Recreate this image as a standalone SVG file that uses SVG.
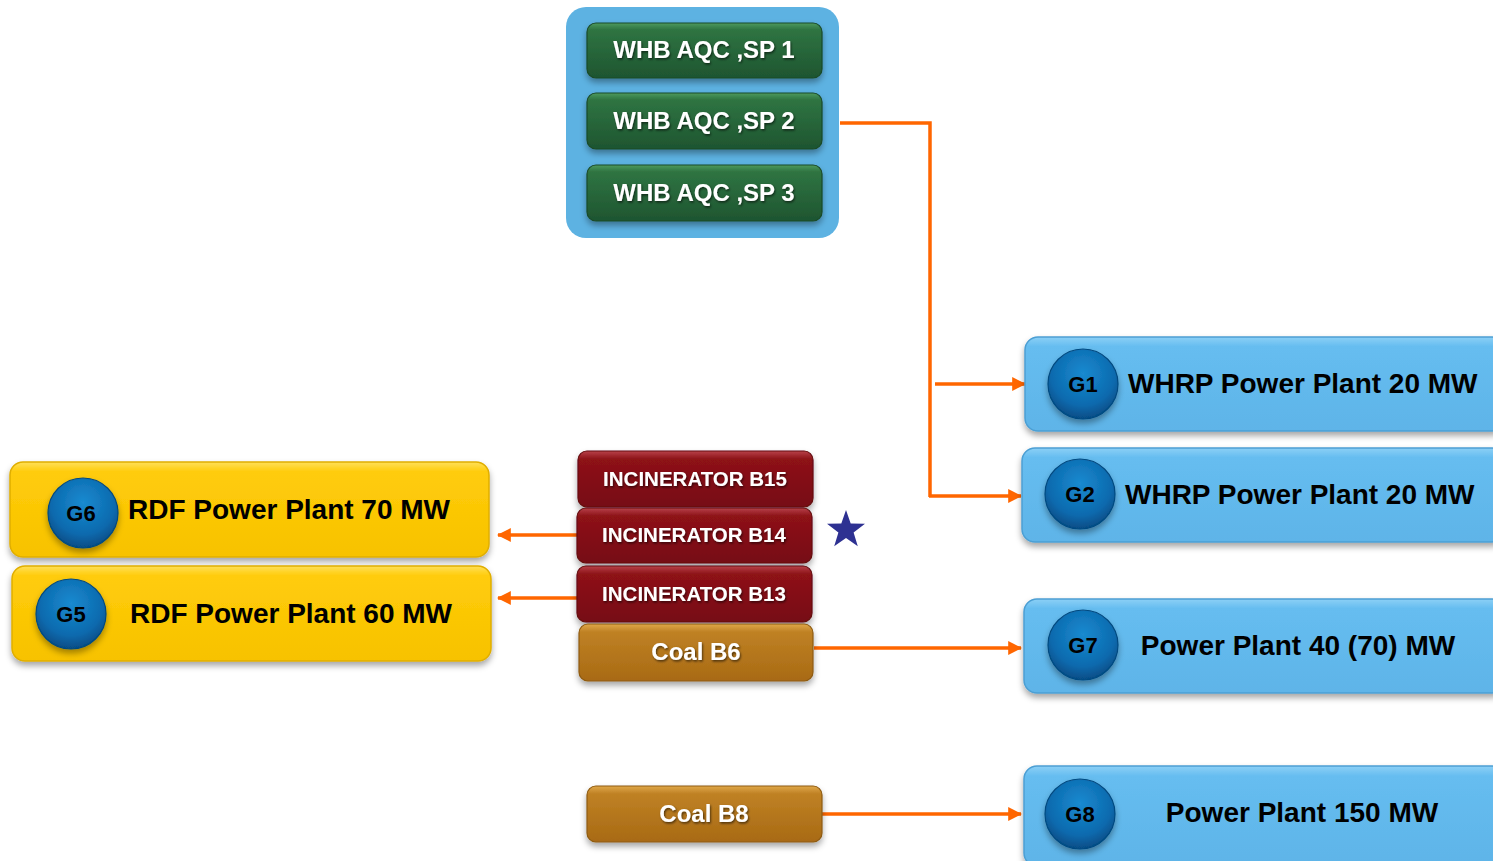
<svg xmlns="http://www.w3.org/2000/svg" width="1493" height="861" viewBox="0 0 1493 861">
<style>
.t{font-family:"Liberation Sans",Arial,sans-serif;font-weight:bold;}
.wt{fill:#ffffff;text-anchor:middle;}
.bt{fill:#000000;}
.g{font-size:22px;fill:#000;text-anchor:middle;}
.conn{stroke:#FF6600;stroke-width:3.5;fill:none;}
.bb{stroke:#4C9FD4;stroke-width:1.5;}
.yb{stroke:#E0AE00;stroke-width:1.5;}
.gb{stroke:#1A4A28;stroke-width:1.2;}
.rb{stroke:#640A0F;stroke-width:1.2;}
.cb{stroke:#8E5A10;stroke-width:1.2;}
.cc{stroke:#064A80;stroke-width:1.2;}
</style>
<defs>
<linearGradient id="gGreen" x1="0" y1="0" x2="0" y2="1">
<stop offset="0" stop-color="#4E9A5E"/><stop offset="0.12" stop-color="#2F7442"/><stop offset="1" stop-color="#1E5530"/>
</linearGradient>
<linearGradient id="gRed" x1="0" y1="0" x2="0" y2="1">
<stop offset="0" stop-color="#B8434A"/><stop offset="0.14" stop-color="#8E1218"/><stop offset="1" stop-color="#760C12"/>
</linearGradient>
<linearGradient id="gCoal" x1="0" y1="0" x2="0" y2="1">
<stop offset="0" stop-color="#E0A84A"/><stop offset="0.14" stop-color="#BF8124"/><stop offset="1" stop-color="#A86A14"/>
</linearGradient>
<linearGradient id="gYel" x1="0" y1="0" x2="0" y2="1">
<stop offset="0" stop-color="#FFE05A"/><stop offset="0.1" stop-color="#FFCC0A"/><stop offset="1" stop-color="#F7C200"/>
</linearGradient>
<linearGradient id="gBlue" x1="0" y1="0" x2="0" y2="1">
<stop offset="0" stop-color="#8CD0F6"/><stop offset="0.1" stop-color="#66BDF0"/><stop offset="1" stop-color="#5EB4E8"/>
</linearGradient>
<radialGradient id="gCirc" cx="0.5" cy="0.35" r="0.65">
<stop offset="0" stop-color="#1A8AD0"/><stop offset="0.7" stop-color="#0B6AAE"/><stop offset="1" stop-color="#064C85"/>
</radialGradient>
<filter id="sh" x="-10%" y="-20%" width="120%" height="150%">
<feDropShadow dx="0" dy="4" stdDeviation="3" flood-color="#000" flood-opacity="0.35"/>
</filter>
<filter id="tsh" x="-10%" y="-20%" width="120%" height="150%">
<feDropShadow dx="1" dy="1.5" stdDeviation="1" flood-color="#000" flood-opacity="0.6"/>
</filter>
<marker id="arr" viewBox="0 0 12 12" refX="11" refY="6" markerWidth="4" markerHeight="4" orient="auto" markerUnits="strokeWidth">
<path d="M0,0 L12,6 L0,12 Z" fill="#FF6600"/>
</marker>
</defs>
<rect width="1493" height="861" fill="#ffffff"/>

<g id="connectors">
<polyline class="conn" points="840,123 930,123 930,497"/>
<line class="conn" x1="935" y1="384" x2="1025" y2="384" marker-end="url(#arr)"/>
<line class="conn" x1="929" y1="496" x2="1021" y2="496" marker-end="url(#arr)"/>
<line class="conn" x1="577" y1="535" x2="498" y2="535" marker-end="url(#arr)"/>
<line class="conn" x1="577" y1="598" x2="498" y2="598" marker-end="url(#arr)"/>
<line class="conn" x1="814" y1="648" x2="1021" y2="648" marker-end="url(#arr)"/>
<line class="conn" x1="822" y1="814" x2="1021" y2="814" marker-end="url(#arr)"/>
</g>

<g id="whb-group">
<rect x="566" y="7" width="273" height="231" rx="20" fill="#5DB2E2"/>
</g>
<g id="sp1">
<rect class="gb" x="587" y="23" width="235" height="55" rx="9" fill="url(#gGreen)" filter="url(#sh)"/>
<text class="t wt" x="704" y="58" font-size="24" filter="url(#tsh)">WHB AQC ,SP 1</text>
</g>
<g id="sp2">
<rect class="gb" x="587" y="93" width="235" height="56" rx="9" fill="url(#gGreen)" filter="url(#sh)"/>
<text class="t wt" x="704" y="129" font-size="24" filter="url(#tsh)">WHB AQC ,SP 2</text>
</g>
<g id="sp3">
<rect class="gb" x="587" y="165" width="235" height="56" rx="9" fill="url(#gGreen)" filter="url(#sh)"/>
<text class="t wt" x="704" y="201" font-size="24" filter="url(#tsh)">WHB AQC ,SP 3</text>
</g>

<g id="g1">
<rect class="bb" x="1025" y="337" width="480" height="94" rx="13" fill="url(#gBlue)" filter="url(#sh)"/>
<circle class="cc" cx="1083" cy="384" r="35" fill="url(#gCirc)" filter="url(#sh)"/>
<text class="t g" x="1083" y="392">G1</text>
<text class="t bt" x="1128" y="393" font-size="28">WHRP Power Plant 20 MW</text>
</g>
<g id="g2">
<rect class="bb" x="1022" y="448" width="483" height="94" rx="13" fill="url(#gBlue)" filter="url(#sh)"/>
<circle class="cc" cx="1080" cy="494" r="35" fill="url(#gCirc)" filter="url(#sh)"/>
<text class="t g" x="1080" y="502">G2</text>
<text class="t bt" x="1125" y="504" font-size="28">WHRP Power Plant 20 MW</text>
</g>
<g id="g7">
<rect class="bb" x="1024" y="599" width="481" height="94" rx="13" fill="url(#gBlue)" filter="url(#sh)"/>
<circle class="cc" cx="1083" cy="645" r="35" fill="url(#gCirc)" filter="url(#sh)"/>
<text class="t g" x="1083" y="653">G7</text>
<text class="t bt" x="1298" y="655" font-size="28" text-anchor="middle">Power Plant 40 (70) MW</text>
</g>
<g id="g8">
<rect class="bb" x="1024" y="766" width="481" height="100" rx="13" fill="url(#gBlue)" filter="url(#sh)"/>
<circle class="cc" cx="1080" cy="814" r="35" fill="url(#gCirc)" filter="url(#sh)"/>
<text class="t g" x="1080" y="822">G8</text>
<text class="t bt" x="1302" y="822" font-size="28" text-anchor="middle">Power Plant 150 MW</text>
</g>

<g id="g6">
<rect class="yb" x="10" y="462" width="479" height="95" rx="13" fill="url(#gYel)" filter="url(#sh)"/>
<circle class="cc" cx="83" cy="513" r="35" fill="url(#gCirc)" filter="url(#sh)"/>
<text class="t g" x="81" y="521">G6</text>
<text class="t bt" x="128" y="519" font-size="28">RDF Power Plant 70 MW</text>
</g>
<g id="g5">
<rect class="yb" x="12" y="566" width="479" height="95" rx="13" fill="url(#gYel)" filter="url(#sh)"/>
<circle class="cc" cx="71" cy="614" r="35" fill="url(#gCirc)" filter="url(#sh)"/>
<text class="t g" x="71" y="622">G5</text>
<text class="t bt" x="130" y="623" font-size="28">RDF Power Plant 60 MW</text>
</g>

<g id="b15">
<rect class="rb" x="578" y="451" width="235" height="56" rx="9" fill="url(#gRed)" filter="url(#sh)"/>
<text class="t wt" x="695" y="486" font-size="20.5" filter="url(#tsh)">INCINERATOR B15</text>
</g>
<g id="b14">
<rect class="rb" x="577" y="508" width="235" height="55" rx="9" fill="url(#gRed)" filter="url(#sh)"/>
<text class="t wt" x="694" y="542" font-size="20.5" filter="url(#tsh)">INCINERATOR B14</text>
</g>
<g id="b13">
<rect class="rb" x="577" y="566" width="235" height="56" rx="9" fill="url(#gRed)" filter="url(#sh)"/>
<text class="t wt" x="694" y="601" font-size="20.5" filter="url(#tsh)">INCINERATOR B13</text>
</g>
<g id="b6">
<rect class="cb" x="579" y="624" width="234" height="57" rx="9" fill="url(#gCoal)" filter="url(#sh)"/>
<text class="t wt" x="696" y="660" font-size="24" filter="url(#tsh)">Coal B6</text>
</g>
<g id="b8">
<rect class="cb" x="587" y="786" width="235" height="56" rx="9" fill="url(#gCoal)" filter="url(#sh)"/>
<text class="t wt" x="704" y="822" font-size="24" filter="url(#tsh)">Coal B8</text>
</g>

<g id="star">
<polygon points="846,510 850.7,523.5 865,523.8 853.6,532.5 857.8,546.2 846,538 834.2,546.2 838.4,532.5 827,523.8 841.3,523.5" fill="#2E3192"/>
</g>
</svg>
